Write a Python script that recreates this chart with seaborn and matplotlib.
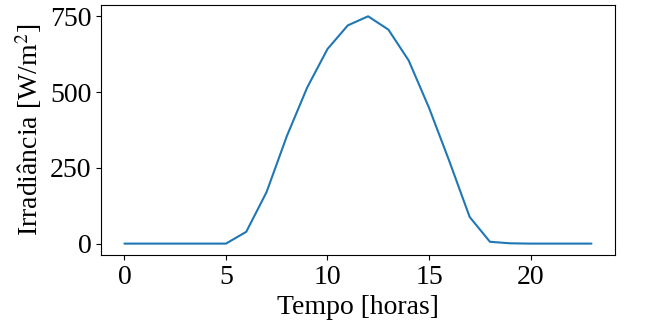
import matplotlib
matplotlib.use("Agg")
import matplotlib.pyplot as plt
import seaborn as sns
import pandas as pd

hours = list(range(24))
irradiance = [0, 0, 0, 0, 0, 0, 39, 170, 355, 515, 642, 720, 750, 706,
              604, 448, 272, 88, 6, 1, 0, 0, 0, 0]

sns.set_style("ticks")
plt.rcParams["font.family"] = ["Liberation Serif", "DejaVu Serif"]
plt.rcParams["mathtext.fontset"] = "stix"
plt.rcParams["text.color"] = "black"
plt.rcParams["axes.labelcolor"] = "black"
plt.rcParams["xtick.color"] = "black"
plt.rcParams["ytick.color"] = "black"

df = pd.DataFrame({"Tempo": hours, "Irradiancia": irradiance})

fig, ax = plt.subplots(figsize=(6.52, 3.29), dpi=100)
sns.lineplot(data=df, x="Tempo", y="Irradiancia", ax=ax, color="#1f77b4", linewidth=1.5)
for s in ax.spines.values():
    s.set_visible(True)
    s.set_color("black")
    s.set_linewidth(0.8)
ax.set_xticks([0, 5, 10, 15, 20])
ax.set_yticks([0, 250, 500, 750])
ax.tick_params(labelsize=20, length=3.5, width=0.8, color="black", labelcolor="black")
ax.set_xlabel("Tempo [horas]", fontsize=20, color="black")
ax.set_ylabel("Irradiância [W/m$^2$]", fontsize=20, color="black")
fig.subplots_adjust(left=0.155, right=0.943, top=0.985, bottom=0.225)
fig.savefig("out.png", dpi=100)
